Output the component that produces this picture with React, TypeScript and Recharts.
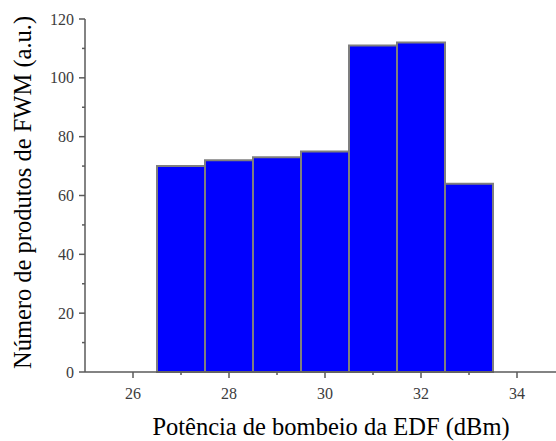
import React from "react";
import { BarChart, Bar, XAxis, YAxis } from "recharts";

// pump power (dBm) and number of FWM products counted at each level
const powers = [27, 28, 29, 30, 31, 32, 33];
const fwmCounts = [70, 72, 73, 75, 111, 112, 64];

const xTicks = [26, 27, 28, 29, 30, 31, 32, 33, 34];
const yTicks = [0, 10, 20, 30, 40, 50, 60, 70, 80, 90, 100, 110, 120];

const data = powers.map((p, i) => ({ power: p, count: fwmCounts[i] }));

const AXIS = "#5a5a5a";
const LABEL = "#3c3c3c";
const FONT = "Liberation Serif";

function BottomTick(props: any) {
  const { x, y, payload } = props;
  const major = payload.value % 2 === 0;
  return (
    <g>
      <line x1={x} x2={x} y1={y} y2={y + (major ? 6 : 3)} stroke={AXIS} strokeWidth={1.5} />
      {major && (
        <text x={x} y={y + 27} textAnchor="middle" fill={LABEL} fontFamily={FONT} fontSize={16}>
          {payload.value}
        </text>
      )}
    </g>
  );
}

function TopTick(props: any) {
  const { x, y, payload } = props;
  const long = payload.value % 2 === 1;
  return <line x1={x} x2={x} y1={y} y2={y + (long ? 6 : 3)} stroke={AXIS} strokeWidth={1.5} />;
}

function LeftTick(props: any) {
  const { x, y, payload } = props;
  const major = payload.value % 20 === 0;
  return (
    <g>
      <line x1={x - (major ? 6 : 3)} x2={x} y1={y} y2={y} stroke={AXIS} strokeWidth={1.5} />
      {major && (
        <text x={x - 11} y={y + 5.5} textAnchor="end" fill={LABEL} fontFamily={FONT} fontSize={16}>
          {payload.value}
        </text>
      )}
    </g>
  );
}

export default function App() {
  return (
    <div
      style={{
        position: "absolute",
        left: 0,
        top: 0,
        width: 556,
        height: 441,
        overflow: "hidden",
        background: "#fff",
        fontFamily: FONT,
      }}
    >
      <BarChart
        width={580}
        height={441}
        data={data}
        margin={{ top: 19, right: 15, bottom: 0, left: 0 }}
        barCategoryGap={0}
        style={{ fontFamily: FONT }}
      >
        <XAxis
          dataKey="power"
          type="number"
          domain={[25, 35]}
          ticks={xTicks}
          interval={0}
          height={69}
          tickSize={0}
          tickMargin={0}
          tickLine={false}
          tick={<BottomTick />}
          axisLine={{ stroke: AXIS, strokeWidth: 1.5 }}
          label={{
            value: "Potência de bombeio da EDF (dBm)",
            position: "center",
            dx: 6,
            dy: 20,
            fontSize: 24.5,
            fill: "#000",
            fontFamily: FONT,
          }}
        />
        <XAxis
          xAxisId="top"
          orientation="top"
          type="number"
          domain={[25, 35]}
          ticks={xTicks}
          interval={0}
          height={0}
          tickSize={0}
          tickMargin={0}
          tickLine={false}
          tick={<TopTick />}
          axisLine={{ stroke: AXIS, strokeWidth: 1.5 }}
        />
        <YAxis
          type="number"
          domain={[0, 120]}
          ticks={yTicks}
          interval={0}
          width={85}
          tickSize={0}
          tickMargin={0}
          tickLine={false}
          tick={<LeftTick />}
          axisLine={{ stroke: AXIS, strokeWidth: 1.5 }}
          label={{
            value: "Número de produtos de FWM (a.u.)",
            angle: -90,
            position: "center",
            dx: -20,
            dy: -3,
            fontSize: 24.5,
            fill: "#000",
            fontFamily: FONT,
          }}
        />
        <Bar dataKey="count" fill="#0000ff" stroke="#7f7f7f" strokeWidth={2} isAnimationActive={false} />
      </BarChart>
    </div>
  );
}
